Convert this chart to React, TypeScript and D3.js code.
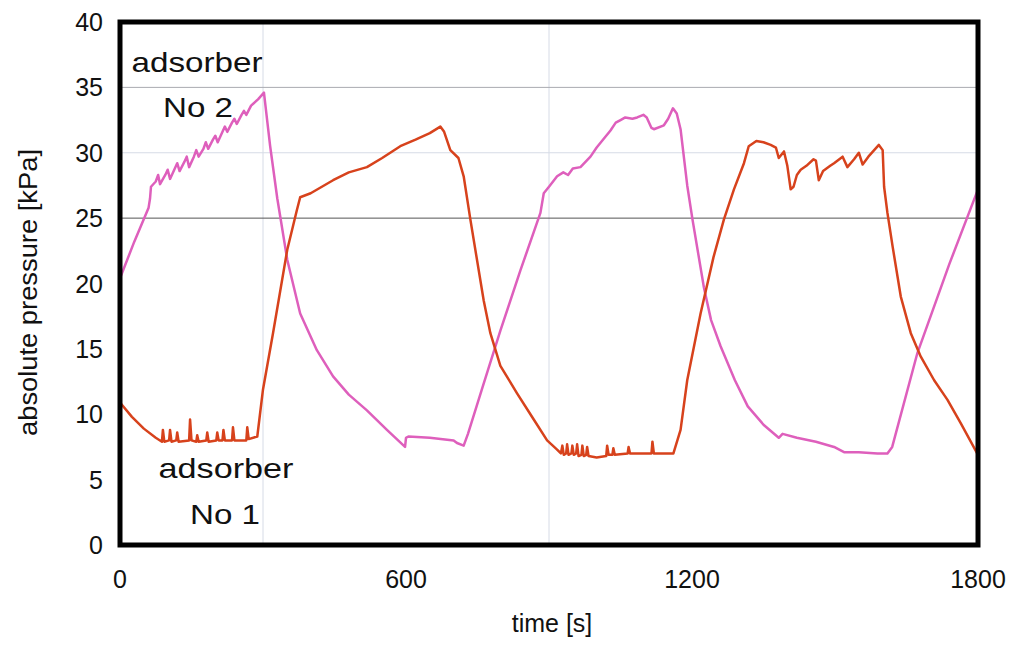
import React from 'react';
import * as d3 from 'd3';

// [time s, pressure kPa]
const adsorberNo2: [number, number][] = [
  [0, 20.4], [30, 23.2], [60, 25.8], [63, 26.5], [65, 27.4], [75, 27.8], [80, 28.3], [84, 27.6],
  [95, 28.3], [100, 28.7], [105, 28.0], [115, 28.8], [120, 29.2], [125, 28.6], [135, 29.3],
  [140, 29.7], [145, 28.9], [155, 29.7], [160, 30.2], [165, 29.7], [175, 30.3], [180, 30.8],
  [185, 30.3], [195, 31.0], [200, 31.3], [205, 30.8], [215, 31.6], [220, 32.0], [225, 31.6],
  [235, 32.3], [240, 32.6], [245, 32.2], [255, 32.9], [260, 33.2], [265, 32.9], [275, 33.6],
  [290, 34.1], [302, 34.6], [315, 30.5], [330, 26.5], [351, 21.8], [378, 17.7], [413, 14.9],
  [447, 12.9], [480, 11.5], [518, 10.3], [560, 8.8], [598, 7.5], [600, 8.2], [605, 8.3],
  [650, 8.2], [700, 8.0], [707, 7.8], [721, 7.6], [730, 8.5], [760, 12.0], [798, 16.4],
  [840, 21.0], [882, 25.4], [889, 26.9], [900, 27.4], [917, 28.2], [930, 28.5], [940, 28.3],
  [950, 28.8], [966, 28.9], [987, 29.7], [1000, 30.4], [1029, 31.7], [1040, 32.3], [1050, 32.5],
  [1060, 32.7], [1075, 32.6], [1085, 32.7], [1098, 32.9], [1105, 32.7], [1115, 31.9],
  [1120, 31.8], [1141, 32.1], [1150, 32.6], [1160, 33.4], [1168, 33.0], [1176, 31.8],
  [1190, 27.5], [1201, 24.9], [1225, 19.7], [1240, 17.2], [1260, 15.2], [1290, 12.6],
  [1317, 10.6], [1350, 9.2], [1382, 8.2], [1390, 8.5], [1420, 8.2], [1460, 7.9], [1498, 7.5],
  [1519, 7.1], [1550, 7.1], [1589, 7.0], [1610, 7.0], [1620, 7.5], [1673, 14.7], [1740, 21.5],
  [1800, 27.2],
];

const adsorberNo1: [number, number][] = [
  [0, 10.9], [25, 9.8], [50, 8.9], [75, 8.2], [88, 7.9], [90, 8.8], [93, 7.9], [103, 8.0],
  [105, 8.8], [108, 7.9], [118, 8.0], [120, 8.6], [123, 7.9], [145, 8.0], [147, 9.6], [150, 8.0],
  [160, 7.9], [162, 8.4], [165, 7.9], [181, 8.0], [183, 8.6], [186, 7.9], [202, 8.0], [204, 8.6],
  [207, 8.0], [215, 8.0], [217, 8.8], [220, 8.0], [235, 8.0], [237, 9.0], [240, 8.0], [265, 8.0],
  [267, 9.0], [270, 8.1], [288, 8.3], [300, 11.9], [321, 16.2], [351, 22.6], [371, 25.6],
  [378, 26.6], [400, 26.9], [447, 27.9], [480, 28.5], [518, 28.9], [550, 29.6], [588, 30.5],
  [620, 31.0], [650, 31.5], [672, 32.0], [680, 31.6], [693, 30.2], [710, 29.6], [721, 28.2],
  [735, 24.9], [763, 18.7], [777, 16.2], [798, 13.7], [833, 11.6], [868, 9.6], [896, 8.0],
  [917, 7.3], [925, 7.0], [928, 7.6], [931, 6.9], [936, 7.0], [938, 7.7], [941, 6.9], [947, 7.0],
  [949, 7.6], [952, 6.9], [957, 7.0], [959, 7.7], [962, 6.8], [968, 6.9], [970, 7.6], [973, 6.8],
  [978, 6.9], [980, 7.5], [983, 6.8], [1000, 6.7], [1020, 6.8], [1022, 7.6], [1025, 6.9],
  [1033, 6.9], [1035, 7.4], [1038, 6.9], [1065, 7.0], [1067, 7.5], [1070, 7.0], [1115, 7.0],
  [1117, 7.9], [1120, 7.0], [1161, 7.0], [1176, 8.8], [1190, 12.6], [1218, 17.7], [1245, 22.0],
  [1267, 24.9], [1288, 27.2], [1309, 29.2], [1319, 30.5], [1335, 30.9], [1350, 30.8],
  [1365, 30.6], [1376, 30.4], [1382, 29.6], [1393, 30.1], [1400, 29.0], [1407, 27.2],
  [1413, 27.4], [1420, 28.3], [1428, 28.7], [1440, 29.0], [1455, 29.5], [1460, 29.4],
  [1466, 27.9], [1475, 28.6], [1490, 29.0], [1498, 29.2], [1516, 29.7], [1526, 28.9],
  [1540, 29.5], [1550, 30.0], [1558, 29.1], [1570, 29.7], [1592, 30.6], [1600, 30.2],
  [1603, 27.4], [1610, 25.4], [1621, 22.8], [1638, 19.0], [1659, 16.2], [1680, 14.4],
  [1708, 12.6], [1736, 11.1], [1764, 9.3], [1800, 6.9],
];

const xTicks = [0, 600, 1200, 1800];
const yTicks = [0, 5, 10, 15, 20, 25, 30, 35, 40];
const lightVGrid = [300, 900];
const hGrid = [
  { v: 35, color: '#a9aab0' },
  { v: 30, color: '#d6dbe6' },
  { v: 25, color: '#555555' },
];

const W = 1010;
const H = 646;
const font = 'Liberation Sans, Arial, sans-serif';

export default function App() {
  const x = d3.scaleLinear().domain([0, 1800]).range([120, 978]);
  const y = d3.scaleLinear().domain([0, 40]).range([545, 22]);
  const line = d3.line<[number, number]>()
    .x(d => x(d[0]))
    .y(d => y(d[1]));

  const [x0, x1] = x.range();
  const top = y(40);
  const bottom = y(0);

  // the labels in the picture are wider than Liberation Sans at the same height
  const label = (cx: number, by: number, s: string, len: number) => (
    <text x={cx - len / 2} y={by} textLength={len} lengthAdjust="spacingAndGlyphs"
      fontFamily={font} fontSize={28} fill="#111">{s}</text>
  );

  return (
    <svg width={W} height={H} style={{ position: 'absolute', left: 0, top: 0, background: '#fff' }}>
      {lightVGrid.map(v => (
        <line key={v} x1={x(v)} x2={x(v)} y1={top} y2={bottom} stroke="#d6dbe6" strokeWidth={1} />
      ))}
      {hGrid.map(g => (
        <line key={g.v} x1={x0} x2={x1} y1={y(g.v)} y2={y(g.v)} stroke={g.color} strokeWidth={1} />
      ))}

      <path d={line(adsorberNo2) ?? ''} fill="none" stroke="#de5fbc" strokeWidth={2.5} strokeLinejoin="round" />
      <path d={line(adsorberNo1) ?? ''} fill="none" stroke="#d7421c" strokeWidth={2.5} strokeLinejoin="round" />

      <rect x={x0} y={top} width={x1 - x0} height={bottom - top} fill="none" stroke="#000" strokeWidth={5} />

      {yTicks.map(v => (
        <text key={v} x={103} y={y(v)} dy="0.36em" textAnchor="end" fontFamily={font} fontSize={25} fill="#111">
          {v}
        </text>
      ))}
      {xTicks.map(v => (
        <text key={v} x={x(v)} y={588} textAnchor="middle" fontFamily={font} fontSize={25} fill="#111">
          {v}
        </text>
      ))}

      <text x={552} y={632} textAnchor="middle" fontFamily={font} fontSize={25} fill="#111">time [s]</text>
      <text transform="translate(37,293) rotate(-90)" x={-143} textLength={287} lengthAdjust="spacingAndGlyphs"
        fontFamily={font} fontSize={25} fill="#111">
        absolute pressure [kPa]
      </text>

      {label(197, 72, 'adsorber', 131)}
      {label(198, 117, 'No 2', 70)}
      {label(226, 478, 'adsorber', 135)}
      {label(225, 524, 'No 1', 70)}
    </svg>
  );
}
